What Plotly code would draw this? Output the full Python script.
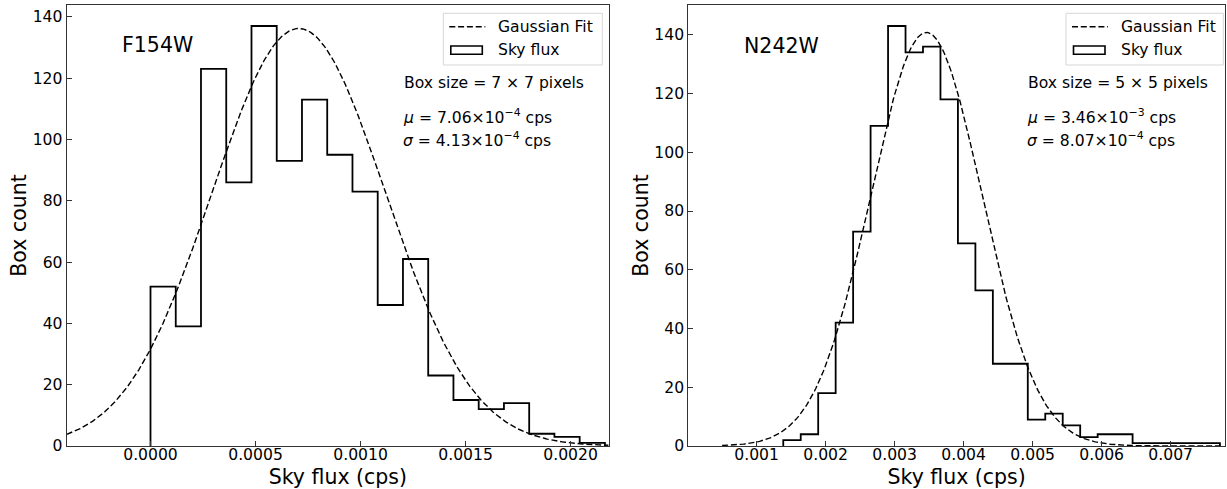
import numpy as np
import plotly.graph_objects as go

# ---------------- data ----------------
# F154W panel
f154_bin_start = 0.0
f154_bin_width = 0.0001202
f154_counts = [52, 39, 123, 86, 137, 93, 113, 95, 83, 46, 61, 23, 15, 12, 14, 4, 3, 1]
f154_mu = 7.06e-4
f154_sigma = 4.13e-4
f154_amp = 136.2
f154_fit_range = [-0.000399, 0.00218]
f154_xrange = [-0.000399, 0.002183]
f154_yrange = [0, 143.85]
f154_xticks = [0.0, 0.0005, 0.0010, 0.0015, 0.0020]

# N242W panel
n242_bin_start = 0.001386
n242_bin_width = 0.0002531
n242_counts = [2, 4, 18, 42, 73, 109, 143, 134, 136, 118, 69, 53, 28, 28, 9, 11, 7, 3, 4, 4,
               1, 1, 1, 1, 1]
n242_mu = 3.46e-3
n242_sigma = 8.07e-4
n242_amp = 140.8
n242_fit_range = [0.0005, 0.00772]
n242_xrange = [0.00001, 0.007787]
n242_yrange = [0, 150.15]
n242_xticks = [0.001, 0.002, 0.003, 0.004, 0.005, 0.006, 0.007]

yticks = [0, 20, 40, 60, 80, 100, 120, 140]

FONT = "DejaVu Sans"
W, H = 1227, 489
MT, MB = 5, 43
PLOT_H = H - MT - MB
DASH = "6px,2.8px"


def px(x):
    return x / W


def py(y):
    return (H - MB - y) / PLOT_H


def step_xy(start, width, counts):
    edges = [start + width * i for i in range(len(counts) + 1)]
    xs = [edges[0]] + edges
    ys = [0] + list(counts) + [0]
    return xs, ys


def gauss(x, amp, mu, sigma):
    return amp * np.exp(-(x - mu) ** 2 / (2 * sigma ** 2))


fig = go.Figure()

panels = [
    dict(start=f154_bin_start, width=f154_bin_width, counts=f154_counts, mu=f154_mu,
         sigma=f154_sigma, amp=f154_amp, fr=f154_fit_range, xa="x", ya="y"),
    dict(start=n242_bin_start, width=n242_bin_width, counts=n242_counts, mu=n242_mu,
         sigma=n242_sigma, amp=n242_amp, fr=n242_fit_range, xa="x2", ya="y2"),
]

for p in panels:
    xs, ys = step_xy(p["start"], p["width"], p["counts"])
    fig.add_trace(go.Scatter(x=xs, y=ys, mode="lines", line=dict(color="black", width=1.8, shape="hv"),
                             name="Sky flux", showlegend=False, xaxis=p["xa"], yaxis=p["ya"],
                             hoverinfo="skip"))
    xf = np.linspace(p["fr"][0], p["fr"][1], 400)
    fig.add_trace(go.Scatter(x=xf, y=gauss(xf, p["amp"], p["mu"], p["sigma"]), mode="lines",
                             line=dict(color="black", width=1.4, dash=DASH),
                             name="Gaussian Fit", showlegend=False, xaxis=p["xa"], yaxis=p["ya"],
                             hoverinfo="skip"))

axis_common = dict(showline=True, linecolor="#333333", linewidth=1.2, mirror=True,
                   ticks="inside", ticklen=5, tickwidth=1, tickcolor="#333333",
                   showgrid=False, zeroline=False, automargin=False,
                   tickfont=dict(family=FONT, size=15.6, color="black"))
title_font = dict(family=FONT, size=20.5, color="black")

fig.update_layout(
    width=W, height=H,
    margin=dict(l=0, r=0, t=MT, b=MB),
    paper_bgcolor="white", plot_bgcolor="white",
    showlegend=False,
    font=dict(family=FONT, color="black"),
    xaxis=dict(domain=[px(66.7), px(609)], range=f154_xrange, tickvals=f154_xticks,
               tickformat=".4f", ticklabelstandoff=-6,
               title=dict(text="Sky flux (cps)", font=title_font, standoff=6),
               **axis_common),
    yaxis=dict(domain=[0, 1], range=f154_yrange, tickvals=yticks,
               title=dict(text="Box count", font=title_font, standoff=0),
               anchor="x", **axis_common),
    xaxis2=dict(domain=[px(688.3), px(1225)], range=n242_xrange, tickvals=n242_xticks,
                tickformat=".3f", ticklabelstandoff=-6,
                title=dict(text="Sky flux (cps)", font=title_font, standoff=6),
                anchor="y2", **axis_common),
    yaxis2=dict(domain=[0, 1], range=n242_yrange, tickvals=yticks,
                title=dict(text="Box count", font=title_font, standoff=0),
                anchor="x2", **axis_common),
)

shapes = []
annotations = []


def add_text(x, y, text, size=15.6, xanchor="left"):
    annotations.append(dict(x=px(x), y=py(y), xref="paper", yref="paper", text=text,
                            showarrow=False, xanchor=xanchor, yanchor="middle",
                            font=dict(family=FONT, size=size, color="black")))


def add_legend(x0, x1):
    # frame
    shapes.append(dict(type="rect", xref="paper", yref="paper", x0=px(x0), x1=px(x1),
                       y0=py(65), y1=py(13.3), line=dict(color="#d6d6d6", width=1),
                       fillcolor="rgba(255,255,255,0.8)", layer="above"))
    # dashed line sample
    shapes.append(dict(type="line", xref="paper", yref="paper", x0=px(x0 + 6), x1=px(x0 + 42),
                       y0=py(26.7), y1=py(26.7), line=dict(color="black", width=1.4, dash=DASH),
                       layer="above"))
    # patch sample
    shapes.append(dict(type="rect", xref="paper", yref="paper", x0=px(x0 + 7.5), x1=px(x0 + 39),
                       y0=py(54.3), y1=py(46), line=dict(color="black", width=1.6),
                       fillcolor="rgba(0,0,0,0)", layer="above"))
    add_text(x0 + 52.5, 26.7, "Gaussian Fit")
    add_text(x0 + 52.5, 50.3, "Sky flux")


# left panel texts
add_text(120, 45, "F154W", size=20.5)
add_text(402, 83.3, "Box size = 7 × 7 pixels")
add_text(401, 116.7, "<i>μ</i> = 7.06×10<sup>−4</sup> cps")
add_text(401, 139.3, "<i>σ</i> = 4.13×10<sup>−4</sup> cps")
add_legend(443.3, 602.3)

# right panel texts
add_text(742, 46, "N242W", size=20.5)
add_text(1025.5, 83.3, "Box size = 5 × 5 pixels")
add_text(1024.7, 116.7, "<i>μ</i> = 3.46×10<sup>−3</sup> cps")
add_text(1024.7, 139.3, "<i>σ</i> = 8.07×10<sup>−4</sup> cps")
add_legend(1066, 1223.3)

fig.update_layout(shapes=shapes, annotations=annotations)

fig.write_html("out.html",
               config={"displayModeBar": False},
               post_script="document.body.style.margin='0';document.body.style.padding='0';")
